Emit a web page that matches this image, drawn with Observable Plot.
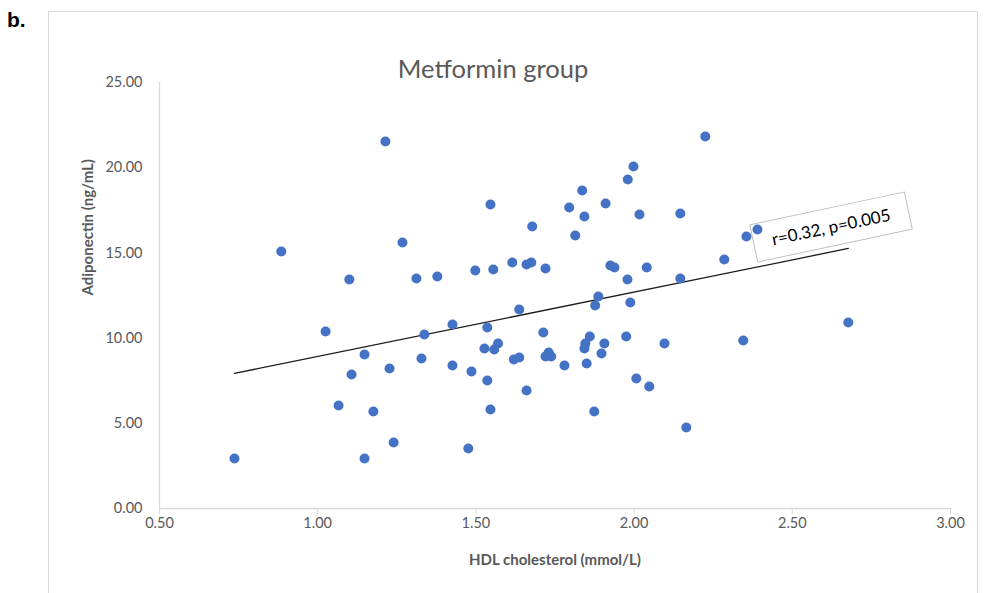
<!DOCTYPE html>
<html>
<head>
<meta charset="utf-8">
<script src="https://cdn.jsdelivr.net/npm/d3@7"></script>
<script src="https://cdn.jsdelivr.net/npm/@observablehq/plot@0.6"></script>
<style>
  html, body { margin: 0; padding: 0; background: #fff; }
  #wrap { position: relative; width: 985px; height: 593px; overflow: hidden; font-family: Lato, sans-serif; }
  #panel { position: absolute; left: 7px; top: 8px; font: bold 21px "Liberation Sans", Arial, sans-serif; color: #000; }
  #border { position: absolute; left: 48px; top: 11px; width: 930px; height: 600px; border: 1px solid #d9d9d9; box-sizing: border-box; }
  #chart { position: absolute; left: 0; top: 0; }
</style>
</head>
<body>
<div id="wrap">
  <div id="border"></div>
  <div id="panel">b.</div>
  <div id="chart"></div>
</div>
<script>
const hdl = [0.737,0.885,1.025,1.066,1.100,1.107,1.148,1.148,1.176,1.214,1.227,1.240,1.268,1.312,1.328,1.337,1.378,1.426,1.426,1.476,1.486,1.498,1.527,1.536,1.536,1.546,1.546,1.555,1.558,1.570,1.615,1.620,1.637,1.637,1.660,1.660,1.675,1.678,1.713,1.720,1.720,1.730,1.738,1.780,1.795,1.814,1.836,1.843,1.843,1.846,1.850,1.860,1.874,1.877,1.887,1.897,1.906,1.910,1.925,1.938,1.975,1.979,1.980,1.988,1.998,2.007,2.017,2.040,2.048,2.096,2.146,2.146,2.165,2.225,2.285,2.345,2.355,2.390,2.677];
const adiponectin = [2.93,15.08,10.39,6.04,13.44,7.86,9.04,2.93,5.69,21.54,8.22,3.87,15.61,13.50,8.80,10.21,13.61,10.80,8.39,3.52,8.04,13.97,9.39,10.62,7.51,17.84,5.81,14.03,9.33,9.68,14.44,8.74,8.86,11.68,6.92,14.32,14.44,16.55,10.33,14.08,8.92,9.15,8.92,8.39,17.66,16.02,18.66,17.14,9.39,9.68,8.51,10.09,5.69,11.91,12.44,9.10,9.68,17.90,14.26,14.14,10.09,13.44,19.31,12.09,20.07,7.63,17.25,14.14,7.16,9.68,17.31,13.50,4.75,21.83,14.61,9.86,15.96,16.37,10.92];
const xTicks = [0.5, 1.0, 1.5, 2.0, 2.5, 3.0];
const yTicks = [0, 5, 10, 15, 20, 25];
const titleText = "Metformin group";
const xLabel = "HDL cholesterol (mmol/L)";
const yLabel = "Adiponectin (ng/mL)";
const statText = "r=0.32, p=0.005";
const statAnchor = { x: 2.624, y: 16.49 };

const points = hdl.map((x, i) => ({ x, y: adiponectin[i] }));

const grey = "#595959";
const axisGrey = "#d9d9d9";

const annotation = (index, scales) => {
  const ns = "http://www.w3.org/2000/svg";
  const g = document.createElementNS(ns, "g");
  const cx = scales.x(statAnchor.x), cy = scales.y(statAnchor.y);
  g.setAttribute("transform", `translate(${cx},${cy}) rotate(-12)`);
  const rect = document.createElementNS(ns, "rect");
  rect.setAttribute("x", -79); rect.setAttribute("y", -19);
  rect.setAttribute("width", 158); rect.setAttribute("height", 38);
  rect.setAttribute("fill", "white"); rect.setAttribute("stroke", "#bfbfbf"); rect.setAttribute("stroke-width", 1);
  const t = document.createElementNS(ns, "text");
  t.setAttribute("x", 0); t.setAttribute("y", 6);
  t.setAttribute("text-anchor", "middle");
  t.setAttribute("font-family", "Lato, sans-serif");
  t.setAttribute("font-size", 17);
  t.setAttribute("fill", "#000");
  t.textContent = statText;
  g.appendChild(rect); g.appendChild(t);
  return g;
};

const chart = Plot.plot({
  width: 985,
  height: 593,
  marginLeft: 159,
  marginRight: 35,
  marginTop: 82,
  marginBottom: 85,
  style: { fontFamily: "Lato, sans-serif", background: "transparent", overflow: "visible" },
  x: { domain: [0.5, 3.0] },
  y: { domain: [0, 25] },
  marks: [
    Plot.ruleX([0.5], { y1: 0, y2: 25, stroke: axisGrey, strokeWidth: 1.3 }),
    Plot.ruleY([0], { x1: 0.5, x2: 3.0, stroke: axisGrey, strokeWidth: 1.3 }),
    Plot.axisX({ ticks: xTicks, tickFormat: d3.format(".2f"), tickSize: 6, tickPadding: 3, stroke: axisGrey, color: grey, fontSize: 14.5, label: null }),
    Plot.axisY({ ticks: yTicks, tickFormat: d3.format(".2f"), tickSize: 0, tickPadding: 17, color: grey, fontSize: 14.5, label: null }),
    Plot.text([xLabel], { frameAnchor: "bottom", dy: 56, fontWeight: "bold", fontSize: 15, fill: grey }),
    Plot.text([yLabel], { frameAnchor: "left", dx: -71, rotate: -90, fontWeight: "bold", fontSize: 15, fill: grey }),
    Plot.text([titleText], { frameAnchor: "top", dx: -62, dy: -23, fontSize: 25.5, fill: grey }),
    Plot.linearRegressionY(points, { x: "x", y: "y", stroke: "#1a1a1a", strokeWidth: 1.3, ci: 0 }),
    annotation,
    Plot.dot(points, { x: "x", y: "y", r: 5, fill: "#4472C4", stroke: null })
  ]
});
document.getElementById("chart").appendChild(chart);
</script>
</body>
</html>
